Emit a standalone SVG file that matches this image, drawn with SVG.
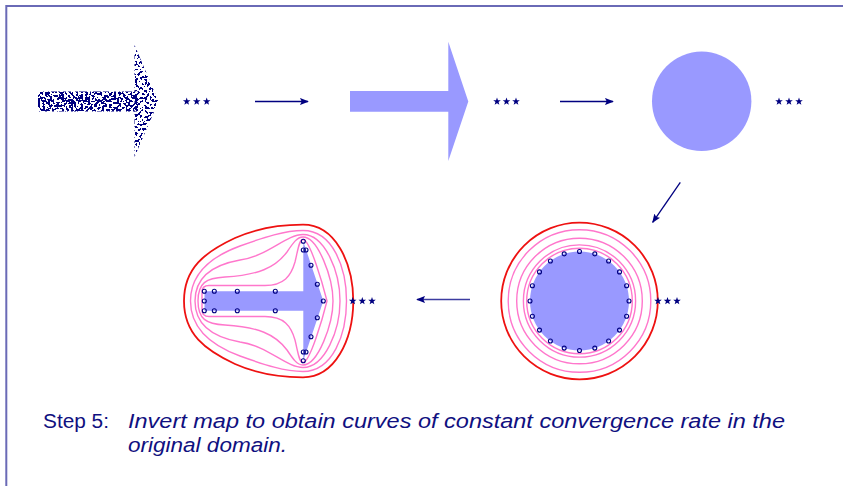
<svg xmlns="http://www.w3.org/2000/svg" width="843" height="486" viewBox="0 0 843 486">
<style>
.fill{fill:#9999ff;stroke:none}
.pink{fill:none;stroke:#ff77cc;stroke-width:1.4}
.red{fill:none;stroke:#ee1111;stroke-width:1.8}
.dot{fill:none;stroke:#000080;stroke-width:1.1}
.conn{stroke:#000080;stroke-width:1.3;fill:none}
.star{fill:#000080}
.t{font-family:"Liberation Sans",Arial,sans-serif;font-size:20px;fill:#101080}
.ti{font-family:"Liberation Sans",Arial,sans-serif;font-size:20px;font-style:italic;fill:#101080}
</style>
<defs>
<marker id="ah" viewBox="0 0 10 8" refX="9" refY="4" markerWidth="9" markerHeight="7.2" markerUnits="userSpaceOnUse" orient="auto">
<path d="M0,0 L10,4 L0,8 L2,4 Z" fill="#000080"/>
</marker>
<polygon id="st" points="0,-4 0.96,-1.32 3.8,-1.24 1.55,0.51 2.35,3.24 0,1.64 -2.35,3.24 -1.55,0.51 -3.8,-1.24 -0.96,-1.32"/>
<circle id="d" r="2"/>
<filter id="spk1" x="-0.05" y="-0.1" width="1.1" height="1.2" color-interpolation-filters="sRGB">
<feTurbulence type="fractalNoise" baseFrequency="0.42" numOctaves="1" seed="4" result="n"/>
<feColorMatrix in="n" type="matrix" values="0 0 0 0 0  0 0 0 0 0  0 0 0 0 0.5  1 0 0 0 0" result="a"/>
<feComponentTransfer in="a" result="t"><feFuncA type="discrete" tableValues="0 0 0 0 0 0 0 0 0 0 1 1 1 1 1 1 1 1 1 1"/></feComponentTransfer>
<feComposite in="t" in2="SourceAlpha" operator="in"/>
</filter>
<filter id="spk2" x="-0.1" y="-0.05" width="1.2" height="1.1" color-interpolation-filters="sRGB">
<feTurbulence type="fractalNoise" baseFrequency="0.42" numOctaves="1" seed="9" result="n"/>
<feColorMatrix in="n" type="matrix" values="0 0 0 0 0  0 0 0 0 0  0 0 0 0 0.5  1 0 0 0 0" result="a"/>
<feComponentTransfer in="a" result="t"><feFuncA type="discrete" tableValues="0 0 0 0 0 0 0 0 0 0 0 1 1 1 1 1 1 1 1 1"/></feComponentTransfer>
<feComposite in="t" in2="SourceAlpha" operator="in"/>
</filter>
</defs>
<rect x="0" y="0" width="843" height="486" fill="#ffffff"/>
<path d="M6.3,486 L6.3,6 L843,6" fill="none" stroke="#6a6ab6" stroke-width="2"/>

<g id="scatter-arrow">
<rect x="38" y="91.5" width="100" height="20" fill="#000080" filter="url(#spk1)"/>
<polygon points="134.5,45 158.5,101.5 134.5,157" fill="#000080" filter="url(#spk2)"/>
</g>
<g id="stars1" class="star">
<use href="#st" x="186.7" y="101.5"/><use href="#st" x="196.7" y="101.5"/><use href="#st" x="206.7" y="101.5"/>
</g>

<g id="solid-arrow">
<polygon class="fill" points="350,91 448.3,91 448.3,41.7 468.3,101.4 448.3,161 448.3,111.7 350,111.7"/>
</g>
<g id="stars2" class="star">
<use href="#st" x="497" y="101.5"/><use href="#st" x="506.5" y="101.5"/><use href="#st" x="516" y="101.5"/>
</g>

<g id="disk">
<circle class="fill" cx="701.7" cy="101.3" r="49.7"/>
</g>
<g id="stars3" class="star">
<use href="#st" x="779" y="101.5"/><use href="#st" x="789" y="101.5"/><use href="#st" x="799" y="101.5"/>
</g>

<g id="disk-contours">
<circle class="fill" cx="579.5" cy="301" r="49.5"/>
<circle class="pink" cx="579.5" cy="301" r="52.8"/>
<circle class="pink" cx="579.5" cy="301" r="56.1"/>
<circle class="pink" cx="579.5" cy="301" r="62.8"/>
<circle class="pink" cx="579.5" cy="301" r="71.3"/>
<circle class="red" cx="579.5" cy="301" r="78.3"/>
<g class="dot">
<use href="#d" x="629" y="301"/><use href="#d" x="626.6" y="316.3"/><use href="#d" x="619.5" y="330.1"/><use href="#d" x="608.6" y="341"/><use href="#d" x="594.8" y="348.1"/>
<use href="#d" x="579.5" y="350.5"/><use href="#d" x="564.2" y="348.1"/><use href="#d" x="550.4" y="341"/><use href="#d" x="539.5" y="330.1"/><use href="#d" x="532.4" y="316.3"/>
<use href="#d" x="530" y="301"/><use href="#d" x="532.4" y="285.7"/><use href="#d" x="539.5" y="271.9"/><use href="#d" x="550.4" y="261"/><use href="#d" x="564.2" y="253.9"/>
<use href="#d" x="579.5" y="251.5"/><use href="#d" x="594.8" y="253.9"/><use href="#d" x="608.6" y="261"/><use href="#d" x="619.5" y="271.9"/><use href="#d" x="626.6" y="285.7"/>
</g>
</g>
<g id="stars4" class="star">
<use href="#st" x="658" y="301"/><use href="#st" x="667.5" y="301"/><use href="#st" x="677" y="301"/>
</g>

<g id="arrow-contours">
<path class="fill" d="M204.5,291.3 L303.3,291.3 L303.3,241.5 L323.3,301 L303.3,360.5 L303.3,310.7 L204.5,310.7 Z"/>
<path class="pink" d="M202,301 L202,292 Q202,285.5 209,285.5 L265,285.5 C284,285.5 291,276 295,262 C298,250 299,239.5 303,239.5 C310,239.5 323,285 327,301 C323,317 310,362.5 303,362.5 C299,362.5 298,352 295,340 C291,326 284,316.5 265,316.5 L209,316.5 Q202,316.5 202,310 Z"/>
<path class="pink" d="M198,301 C198,283 206,278 225,277 C258,275 275,268 287,252 C293,243 297,237 303,237 C318,237 333,278 333,301 C333,324 318,365 303,365 C297,365 293,359 287,350 C275,334 258,327 225,325 C206,324 198,319 198,301 Z"/>
<path class="pink" d="M195,301 C195,278 212,265 240,260 C268,256 286,234.5 303,234.5 C325,234.5 340,272 340,301 C340,330 325,367.5 303,367.5 C286,367.5 268,346 240,342 C212,337 195,324 195,301 Z"/>
<path class="pink" d="M190.5,301 C190.5,275 210,257 240,246 C265,237 285,230.5 303,230.5 C333,230.5 346.5,268 346.5,301 C346.5,334 333,371.5 303,371.5 C285,371.5 265,365 240,356 C210,345 190.5,327 190.5,301 Z"/>
<path class="red" d="M184,301 C184,268 205,252 235,238 C262,226 285,224.7 303,224.7 C335,224.7 353,262 353.3,301 C353,340 335,377.3 303,377.3 C285,377.3 262,376 235,364 C205,350 184,334 184,301 Z"/>
<g class="dot">
<use href="#d" x="303.3" y="241.3"/><use href="#d" x="303.3" y="250"/><use href="#d" x="306" y="250"/><use href="#d" x="311" y="265.3"/><use href="#d" x="317.3" y="284.3"/>
<use href="#d" x="323.3" y="301"/><use href="#d" x="317.3" y="317.7"/><use href="#d" x="311" y="336.7"/><use href="#d" x="303.3" y="352"/><use href="#d" x="306" y="352"/><use href="#d" x="303.3" y="360.7"/>
<use href="#d" x="204.3" y="291.3"/><use href="#d" x="214.3" y="291.3"/><use href="#d" x="237.3" y="291.3"/><use href="#d" x="275.3" y="291.3"/>
<use href="#d" x="204.3" y="301"/>
<use href="#d" x="204.3" y="310.7"/><use href="#d" x="214.3" y="310.7"/><use href="#d" x="237.3" y="310.7"/><use href="#d" x="275.3" y="310.7"/>
</g>
</g>
<g id="stars5" class="star">
<use href="#st" x="352.7" y="301"/><use href="#st" x="362.3" y="301"/><use href="#st" x="372" y="301"/>
</g>

<g id="connectors">
<line class="conn" x1="255" y1="101.5" x2="308" y2="101.5" marker-end="url(#ah)"/>
<line class="conn" x1="560" y1="101.5" x2="613" y2="101.5" marker-end="url(#ah)"/>
<line class="conn" x1="680.3" y1="182.3" x2="652.7" y2="222.3" marker-end="url(#ah)"/>
<line class="conn" x1="470" y1="299.5" x2="417" y2="299.5" marker-end="url(#ah)" style="stroke:#3c3ca0;stroke-width:1.6"/>
</g>

<g id="caption">
<text class="t" x="43" y="428" textLength="66" lengthAdjust="spacingAndGlyphs">Step 5:</text>
<text class="ti" x="128" y="428" textLength="657" lengthAdjust="spacingAndGlyphs">Invert map to obtain curves of constant convergence rate in the</text>
<text class="ti" x="128" y="452" textLength="159" lengthAdjust="spacingAndGlyphs">original domain.</text>
</g>
</svg>
